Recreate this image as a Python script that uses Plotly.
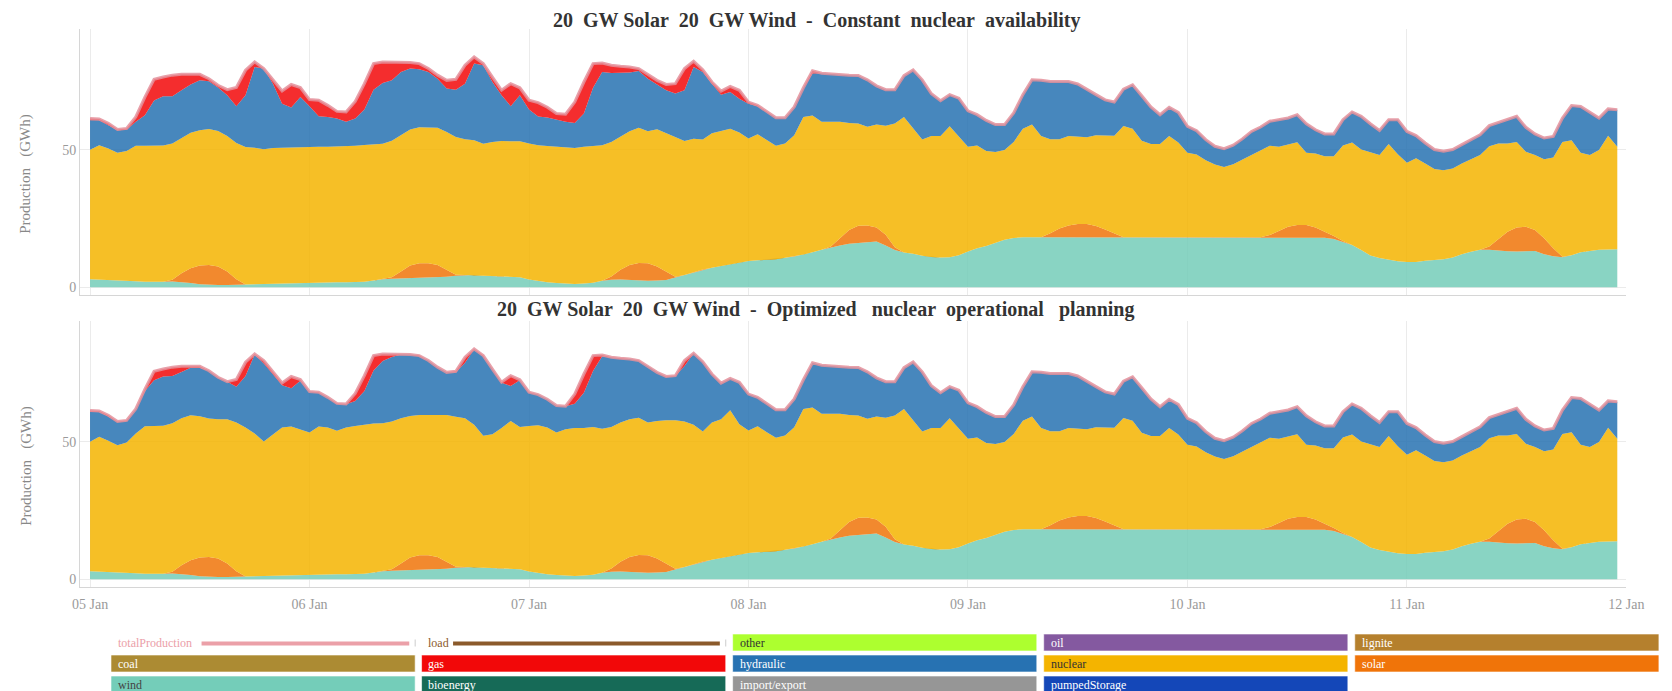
import pandas as pd
import plotly.graph_objects as go

# the page body has an 8px margin: the figure is sized so that it fills the window after it
OFF = 8
W, H = 1672 - OFF, 691 - OFF
FONT = "Liberation Serif"

# hourly timestamps, 05 Jan 00:00 .. 11 Jan 23:00
hours = pd.date_range("2019-01-05 00:00", periods=168, freq="h")

# ---- cumulative stack levels (GWh) ----
wind_top = [
    2.9, 2.8, 2.7, 2.6, 2.4, 2.2, 2.0, 1.9, 2.0, 2.1, 1.9, 1.5, 1.1, 0.9, 0.8, 0.8, 0.9, 1.0, 1.1, 1.2, 1.3, 1.4, 1.5, 1.6,
    1.7, 1.7, 1.7, 1.8, 1.8, 1.9, 2.0, 2.4, 2.9, 3.1, 3.2, 3.3, 3.4, 3.4, 3.5, 3.8, 4.2, 4.4, 4.4, 4.2, 4.1, 3.9, 3.8, 3.6,
    2.8, 2.2, 1.8, 1.5, 1.3, 1.2, 1.3, 1.6, 2.3, 2.7, 2.8, 2.6, 2.4, 2.3, 2.4, 2.6, 3.5, 4.4, 5.5, 6.4, 7.1, 7.7, 8.4, 9.0,
    9.5, 9.8, 9.9, 10.2, 10.7, 11.2, 11.9, 12.7, 13.6, 14.5, 15.2, 15.8, 16.1, 16.4, 16.6, 15.2, 13.5, 12.6, 12.2, 11.4, 11.0, 10.8, 10.9, 11.6,
    13.0, 14.2, 15.0, 16.2, 17.3, 17.9, 18.2, 18.2, 18.2, 18.2, 18.2, 18.2, 18.2, 18.2, 18.2, 18.2, 18.2, 18.2, 18.2, 18.2, 18.2, 18.2, 18.2, 18.2,
    18.2, 18.2, 18.2, 18.2, 18.2, 18.2, 18.2, 18.2, 18.2, 18.2, 18.2, 18.2, 18.2, 18.2, 18.2, 18.0, 17.5, 16.5, 15.4, 13.5, 11.5, 10.6, 9.9, 9.4,
    9.2, 9.2, 9.6, 9.9, 10.2, 10.8, 12.0, 12.9, 13.6, 13.6, 13.3, 13.1, 13.0, 13.1, 13.2, 12.0, 11.3, 10.9, 11.6, 12.7, 13.2, 13.6, 13.7, 13.8,
]

solar_top = [
    2.9, 2.8, 2.7, 2.6, 2.4, 2.2, 2.0, 1.9, 2.0, 2.7, 5.1, 6.9, 7.9, 8.1, 7.5, 5.7, 2.9, 1.0, 1.1, 1.2, 1.3, 1.4, 1.5, 1.6,
    1.7, 1.7, 1.7, 1.8, 1.8, 1.9, 2.0, 2.4, 2.9, 3.6, 5.7, 7.9, 8.7, 8.7, 8.1, 6.3, 4.5, 4.4, 4.4, 4.2, 4.1, 3.9, 3.8, 3.6,
    2.8, 2.2, 1.8, 1.5, 1.3, 1.2, 1.3, 1.6, 2.3, 3.9, 6.3, 8.1, 8.8, 8.7, 7.5, 5.7, 3.8, 4.4, 5.5, 6.4, 7.1, 7.7, 8.4, 9.0,
    9.5, 9.8, 9.9, 10.2, 10.7, 11.2, 11.9, 12.7, 13.6, 14.8, 17.8, 20.8, 22.4, 22.5, 21.7, 19.1, 14.5, 12.6, 12.2, 11.4, 11.0, 10.8, 10.9, 11.6,
    13.0, 14.2, 15.0, 16.2, 17.3, 17.9, 18.2, 18.2, 18.2, 19.6, 21.4, 22.5, 23.0, 23.0, 22.3, 21.0, 19.5, 18.2, 18.2, 18.2, 18.2, 18.2, 18.2, 18.2,
    18.2, 18.2, 18.2, 18.2, 18.2, 18.2, 18.2, 18.2, 18.2, 19.0, 20.6, 22.0, 22.6, 22.6, 21.7, 20.2, 18.6, 16.8, 15.4, 13.5, 11.5, 10.6, 9.9, 9.4,
    9.2, 9.2, 9.6, 9.9, 10.2, 10.8, 12.0, 12.9, 13.6, 14.8, 17.4, 20.2, 21.7, 22.0, 20.8, 17.8, 14.2, 11.1, 11.6, 12.7, 13.2, 13.6, 13.7, 13.8,
]

total = [
    61.4, 61.2, 59.7, 57.4, 57.8, 62.0, 69.2, 75.7, 76.5, 77.2, 77.5, 77.5, 77.5, 75.9, 73.5, 71.9, 72.7, 79.0, 82.0, 79.6, 75.3, 71.4, 73.8, 72.7,
    68.3, 68.1, 66.2, 64.0, 63.8, 67.6, 74.1, 81.4, 82.0, 82.0, 82.0, 81.8, 81.4, 79.6, 77.2, 75.3, 75.7, 80.8, 83.8, 81.4, 76.5, 71.7, 74.1, 72.6,
    68.1, 67.2, 65.5, 63.2, 63.0, 67.4, 74.7, 81.4, 81.6, 80.8, 80.4, 80.2, 79.6, 77.5, 75.3, 73.8, 74.1, 79.6, 82.3, 79.2, 74.7, 71.4, 73.1, 71.7,
    67.4, 66.2, 63.8, 61.7, 61.7, 65.6, 72.6, 78.8, 77.9, 77.6, 77.3, 77.2, 77.1, 75.5, 73.3, 71.9, 71.9, 77.0, 79.1, 75.5, 70.4, 67.9, 70.1, 68.8,
    64.2, 62.8, 60.7, 59.2, 59.2, 63.4, 70.1, 75.5, 75.3, 74.9, 74.9, 74.9, 74.0, 71.9, 70.1, 68.2, 67.4, 72.1, 73.7, 69.7, 65.6, 62.8, 65.5, 63.6,
    58.6, 57.0, 53.7, 51.3, 50.4, 51.7, 54.0, 56.7, 58.3, 60.4, 61.0, 61.6, 62.8, 59.5, 57.3, 55.8, 55.8, 61.0, 63.8, 62.2, 59.5, 57.1, 61.0, 61.0,
    56.7, 55.2, 52.5, 50.1, 49.5, 50.1, 51.9, 53.7, 55.5, 58.8, 60.0, 61.0, 62.2, 58.2, 55.8, 54.3, 54.9, 61.6, 66.1, 65.8, 63.6, 61.6, 64.9, 64.6,
]

# panel 1 : constant nuclear availability
nuclear_top_1 = [
    50.0, 51.7, 50.5, 48.9, 49.6, 51.5, 51.5, 51.5, 51.6, 52.3, 54.4, 56.2, 57.1, 57.6, 56.9, 55.0, 52.5, 51.0, 50.8, 50.2, 50.7, 50.8, 50.9, 51.1,
    51.1, 51.1, 51.1, 51.2, 51.3, 51.5, 51.8, 52.0, 52.2, 53.3, 55.3, 57.4, 58.2, 58.2, 58.0, 56.5, 54.7, 53.9, 53.5, 52.2, 52.9, 53.2, 53.2, 53.1,
    52.3, 51.7, 51.4, 51.1, 50.9, 50.7, 51.1, 51.4, 51.7, 52.9, 55.0, 56.8, 58.0, 56.8, 57.5, 56.0, 54.4, 53.2, 54.0, 53.8, 56.0, 56.9, 57.7, 56.3,
    54.1, 55.7, 53.5, 51.5, 52.3, 55.3, 62.0, 62.5, 60.2, 60.2, 60.2, 59.8, 59.6, 58.4, 59.2, 58.8, 59.6, 62.0, 57.7, 53.8, 55.0, 55.0, 58.6, 54.7,
    51.1, 51.6, 49.6, 49.2, 49.9, 52.9, 57.7, 59.2, 55.0, 53.9, 53.9, 55.0, 54.7, 54.6, 55.3, 55.3, 55.1, 58.7, 57.7, 53.3, 52.1, 52.1, 55.0, 52.7,
    48.9, 48.3, 46.2, 44.7, 43.8, 44.8, 46.5, 48.3, 49.9, 51.5, 51.1, 51.9, 52.8, 48.9, 48.7, 47.7, 47.7, 51.6, 52.7, 50.1, 49.0, 48.1, 52.1, 48.4,
    45.3, 46.9, 45.0, 43.0, 42.6, 43.2, 45.0, 46.5, 48.1, 51.3, 52.3, 52.3, 52.9, 49.3, 48.1, 46.6, 47.2, 52.9, 53.5, 48.9, 48.1, 49.9, 55.1, 51.1,
]

hydro_top_1 = [
    60.8, 60.8, 59.0, 57.1, 57.3, 60.2, 62.6, 68.0, 69.5, 69.5, 71.7, 73.8, 75.3, 75.0, 72.7, 69.9, 65.9, 69.9, 80.2, 79.6, 74.1, 66.8, 65.4, 69.2,
    65.9, 62.2, 62.0, 61.4, 60.2, 61.4, 64.7, 71.9, 74.3, 75.3, 78.3, 79.6, 79.3, 78.3, 75.9, 72.3, 71.9, 74.1, 81.4, 80.8, 74.7, 69.9, 65.9, 69.9,
    64.7, 62.1, 61.8, 61.0, 60.2, 59.8, 63.2, 72.6, 78.3, 78.0, 78.0, 78.2, 78.7, 75.9, 73.8, 71.7, 70.5, 71.7, 80.2, 78.3, 74.1, 70.1, 71.1, 68.6,
    66.8, 65.9, 63.8, 61.7, 61.7, 65.6, 72.6, 77.8,
] + total[80:]

# panel 2 : optimized nuclear operational planning
nuclear_top_2 = [
    50.0, 51.9, 50.4, 48.8, 49.8, 53.0, 55.7, 55.9, 55.9, 56.8, 58.6, 59.7, 59.3, 58.5, 58.2, 58.2, 57.0, 55.2, 53.0, 50.1, 52.5, 55.2, 55.6, 54.6,
    53.4, 55.6, 55.2, 54.0, 55.2, 55.8, 56.2, 56.7, 56.8, 57.4, 58.6, 59.4, 59.8, 59.8, 60.0, 59.8, 59.1, 58.6, 56.2, 52.2, 52.8, 55.0, 57.6, 55.4,
    55.8, 56.0, 55.2, 53.4, 54.6, 55.0, 55.0, 55.4, 54.8, 55.4, 57.0, 58.2, 58.8, 57.0, 57.6, 57.9, 57.9, 57.4, 56.2, 53.8, 57.0, 58.2, 61.5, 56.4,
] + nuclear_top_1[72:]

hydro_top_2 = [
    61.0, 61.0, 59.2, 57.3, 57.6, 62.0, 68.5, 72.4, 73.8, 74.0, 75.4, 77.0, 77.0, 75.9, 73.4, 71.9, 70.1, 74.0, 81.8, 78.5, 74.6, 70.6, 69.5, 72.2,
    68.3, 67.9, 66.2, 63.8, 63.7, 64.9, 68.5, 76.0, 79.4, 80.9, 81.8, 81.8, 81.2, 79.6, 77.2, 75.3, 75.3, 78.8, 83.7, 81.2, 76.4, 71.5, 70.3, 72.4,
    67.9, 67.2, 65.5, 63.2, 63.0, 63.9, 67.9, 75.8, 81.2, 80.8, 80.3, 80.2, 79.4, 77.5, 75.3, 73.6, 74.0, 77.6, 82.3, 79.2, 74.6, 71.2, 73.1, 71.7,
] + total[72:]

titles = [
    "20\u00a0 GW Solar\u00a0 20\u00a0 GW Wind\u00a0 -\u00a0 Constant\u00a0 nuclear\u00a0 availability",
    "20\u00a0 GW Solar\u00a0 20\u00a0 GW Wind\u00a0 -\u00a0 Optimized\u00a0\u00a0 nuclear\u00a0 operational\u00a0\u00a0 planning",
]
y_title = "Production\u00a0\u00a0 (GWh)"
day_ticks = pd.date_range("2019-01-05", "2019-01-12", freq="D")

legend_rows = [
    [("totalProduction", "line", "#EBA0A8", "#EBA0A8"), ("load", "line", "#8B5A2B", "#8B5A2B"),
     ("other", "box", "#ADFF2F", "#333333"), ("oil", "box", "#8459A0", "white"), ("lignite", "box", "#B5802D", "white")],
    [("coal", "box", "#AC8B33", "white"), ("gas", "box", "#F20809", "white"), ("hydraulic", "box", "#2772B2", "white"),
     ("nuclear", "box", "#F4B400", "#333333"), ("solar", "box", "#F07409", "white")],
    [("wind", "box", "#74CDB9", "#444444"), ("bioenergy", "box", "#166A57", "white"),
     ("import/export", "box", "#969696", "white"), ("pumpedStorage", "box", "#1447B8", "white")],
]


# ---- helpers: page pixel -> paper fraction ----
def fx(p):
    return (p - OFF) / W


def fy(p):
    return 1 - (p - OFF) / H


def rgba(hexc, a):
    hexc = hexc.lstrip("#")
    r, g, b = int(hexc[0:2], 16), int(hexc[2:4], 16), int(hexc[4:6], 16)
    return f"rgba({r},{g},{b},{a})"


fig = go.Figure()
panels = [(nuclear_top_1, hydro_top_1, "x", "y"), (nuclear_top_2, hydro_top_2, "x2", "y2")]
layers = [("wind", "#74CDB9"), ("solar", "#F07409"), ("nuclear", "#F4B400"), ("hydraulic", "#2772B2"), ("gas", "#F20809")]
for nuc, hyd, xa, ya in panels:
    levels = [wind_top, solar_top, nuc, hyd, total]
    for i, ((name, col), lev) in enumerate(zip(layers, levels)):
        fig.add_trace(go.Scatter(
            x=hours, y=lev, name=name, mode="lines", line=dict(width=0, color=col),
            fill="tozeroy" if i == 0 else "tonexty", fillcolor=rgba(col, 0.85),
            xaxis=xa, yaxis=ya, showlegend=False, hoverinfo="skip"))
    fig.add_trace(go.Scatter(
        x=hours, y=total, name="totalProduction", mode="lines",
        line=dict(width=3, color="rgba(228,145,155,0.85)"),
        xaxis=xa, yaxis=ya, showlegend=False, hoverinfo="skip"))

x_left, x_right = 73, 1644
xr = ["2019-01-04 22:54", "2019-01-12 00:00"]
common_x = dict(type="date", range=xr, domain=[fx(x_left), fx(x_right)], tickvals=day_ticks,
                tickformat="%d %b", showgrid=True, gridcolor="#ebebeb", gridwidth=1,
                showline=True, linecolor="#d6d6d6", linewidth=1, zeroline=False,
                ticks="outside", ticklen=4, tickcolor="rgba(0,0,0,0)",
                tickfont=dict(family=FONT, size=14, color="#9a9a9a"))
common_y = dict(range=[-2.85, 94], tickvals=[0, 50], showgrid=True, gridcolor="#ebebeb",
                showline=True, linecolor="#d6d6d6", linewidth=1, zeroline=False, ticks="",
                tickfont=dict(family=FONT, size=14, color="#9a9a9a"))

fig.update_layout(
    width=W, height=H, autosize=False,
    margin=dict(l=0, r=0, t=0, b=0, pad=0),
    paper_bgcolor="white", plot_bgcolor="white",
    xaxis=dict(common_x, anchor="y", showticklabels=False),
    xaxis2=dict(common_x, anchor="y2", matches="x"),
    yaxis=dict(common_y, anchor="x", domain=[fy(295), fy(29)]),
    yaxis2=dict(common_y, anchor="x2", domain=[fy(587), fy(321)]),
)

ann = []
shapes = []
for t, py in zip(titles, [20, 309]):
    ann.append(dict(text=f"<b>{t}</b>", x=fx(821), y=fy(py), xref="paper", yref="paper",
                    xanchor="center", yanchor="middle", showarrow=False, borderpad=0,
                    font=dict(family=FONT, size=20, color="#333333")))
for py in [174, 466]:
    ann.append(dict(text=y_title, x=fx(18), y=fy(py), xref="paper", yref="paper",
                    xanchor="center", yanchor="middle", textangle=-90, showarrow=False,
                    font=dict(family=FONT, size=15, color="#888888")))

col_x = [104.5, 420, 736, 1052, 1368]
col_w = 309
row_y = [(634, 651), (655, 672), (676, 693)]
line_starts = {"totalProduction": 92, "load": 32}
for r, row in enumerate(legend_rows):
    y0, y1 = row_y[r]
    yc = (y0 + y1) / 2
    for c, (label, kind, col, tcol) in enumerate(row):
        x0 = col_x[c]
        if kind == "box":
            shapes.append(dict(type="rect", xref="paper", yref="paper",
                               x0=fx(x0), x1=fx(x0 + col_w), y0=fy(y1), y1=fy(y0),
                               fillcolor=col, line=dict(width=1, color="rgba(255,255,255,0.6)"), layer="above"))
        else:
            ls = line_starts[label]
            shapes.append(dict(type="line", xref="paper", yref="paper",
                               x0=fx(x0 + ls), x1=fx(x0 + col_w - 6), y0=fy(yc + 1), y1=fy(yc + 1),
                               line=dict(width=4, color=col)))
            shapes.append(dict(type="line", xref="paper", yref="paper",
                               x0=fx(x0 + col_w), x1=fx(x0 + col_w), y0=fy(yc - 3), y1=fy(yc + 4),
                               line=dict(width=1, color="#cccccc")))
        ann.append(dict(text=label, x=fx(x0 + 5), y=fy(yc), xref="paper", yref="paper",
                        xanchor="left", yanchor="middle", showarrow=False,
                        font=dict(family=FONT, size=12, color=tcol)))

fig.update_layout(annotations=ann, shapes=shapes)
fig.write_html("out.html")
